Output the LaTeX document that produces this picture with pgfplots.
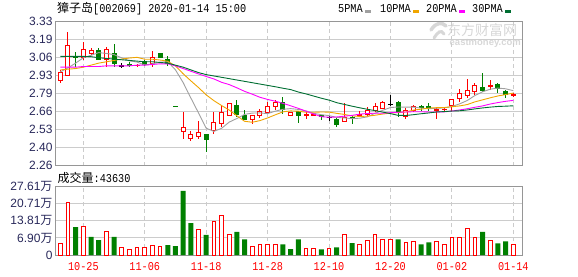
\documentclass[border=0pt]{standalone}
\usepackage{fontspec}
\setmainfont{Liberation Mono}[FakeStretch=0.85]
\newfontfamily\cjk{Noto Sans CJK SC}
\newfontfamily\lsans{Liberation Sans}
\usepackage{pgfplots}
\pgfplotsset{compat=1.18}
\usepackage{pgfplotstable}
\definecolor{cred}{RGB}{255,0,0}
\definecolor{cgreen}{RGB}{0,128,0}
\definecolor{maA}{RGB}{160,160,160}
\definecolor{maB}{RGB}{240,165,0}
\definecolor{maC}{RGB}{255,0,255}
\definecolor{maD}{RGB}{0,110,50}
\definecolor{gridc}{RGB}{204,204,204}
\definecolor{framec}{RGB}{150,150,150}
\definecolor{lblc}{RGB}{40,40,90}
\definecolor{wm}{RGB}{215,215,215}
\newcommand\wan{{\cjk 万}}

\pgfplotstableread{
i o h l c
0 2.89 2.97 2.87 2.95
1 2.93 3.25 2.93 3.15
3 3.06 3.18 3.04 3.12
4 3.09 3.13 3.08 3.11
6 3.05 3.14 2.99 3.12
10 3.00 3.012 2.99 3.005
12 3.02 3.11 2.99 3.06
16 2.515 2.655 2.46 2.54
17 2.46 2.515 2.44 2.49
18 2.475 2.59 2.46 2.505
20 2.52 2.655 2.495 2.58
21 2.576 2.71 2.545 2.653
22 2.63 2.725 2.625 2.72
25 2.60 2.63 2.57 2.63
26 2.63 2.68 2.61 2.66
27 2.655 2.73 2.64 2.695
28 2.70 2.745 2.67 2.73
30 2.63 2.66 2.63 2.655
32 2.635 2.667 2.606 2.64
33 2.635 2.65 2.625 2.64
37 2.59 2.725 2.59 2.62
39 2.635 2.663 2.62 2.64
40 2.638 2.695 2.626 2.672
41 2.667 2.727 2.66 2.70
42 2.687 2.741 2.68 2.73
45 2.628 2.688 2.607 2.668
46 2.67 2.71 2.66 2.70
49 2.67 2.69 2.605 2.675
50 2.675 2.697 2.658 2.68
51 2.707 2.756 2.667 2.754
52 2.756 2.83 2.731 2.793
53 2.778 2.901 2.761 2.815
54 2.81 2.872 2.786 2.857
56 2.848 2.896 2.823 2.852
59 2.785 2.80 2.768 2.79
}\redc

\pgfplotstableread{
i o h l c
2 3.07 3.10 2.99 3.06
5 3.11 3.13 3.04 3.05
7 3.09 3.16 2.99 3.015
9 3.01 3.03 2.99 3.00
11 3.03 3.04 3.00 3.01
13 3.09 3.09 3.06 3.06
14 3.05 3.07 3.00 3.02
15 2.70 2.70 2.70 2.70
19 2.49 2.49 2.36 2.455
23 2.705 2.745 2.62 2.64
24 2.63 2.67 2.595 2.605
29 2.727 2.766 2.64 2.675
31 2.66 2.66 2.575 2.63
34 2.63 2.63 2.595 2.625
36 2.605 2.61 2.55 2.565
38 2.62 2.625 2.57 2.615
44 2.727 2.737 2.623 2.658
47 2.70 2.707 2.663 2.695
48 2.697 2.724 2.663 2.69
55 2.842 2.946 2.806 2.82
57 2.86 2.872 2.798 2.835
58 2.81 2.82 2.761 2.786
}\greenc

\pgfplotstableread{
i o h l c
8 3.00 3.02 2.985 3.00
35 2.62 2.63 2.59 2.62
43 2.715 2.786 2.70 2.715
}\blackc

\pgfplotstableread{
i m5 m10 m20 m30
0 2.955 2.97 2.99 3.07
1 2.985 2.975 2.99 3.07
2 3.02 2.98 2.99 3.07
3 3.06 2.99 2.995 3.07
4 3.078 3.005 2.995 3.068
5 3.098 3.02 2.995 3.06
6 3.092 3.03 3.0 3.055
7 3.083 3.04 3.0 3.05
8 3.059 3.05 3.0 3.045
9 3.037 3.058 3.0 3.04
10 3.028 3.063 3.005 3.035
11 3.006 3.049 3.005 3.03
12 3.015 3.049 3.01 3.03
13 3.027 3.043 3.015 3.025
14 3.031 3.034 3.015 3.02
15 2.97 2.999 3.0 3.005
16 2.876 2.941 2.98 2.99
17 2.762 2.889 2.96 2.97
18 2.651 2.839 2.94 2.95
19 2.538 2.785 2.921 2.935
20 2.514 2.742 2.903 2.925
21 2.537 2.706 2.878 2.915
22 2.583 2.672 2.861 2.905
23 2.610 2.630 2.837 2.895
24 2.640 2.589 2.811 2.885
25 2.650 2.582 2.790 2.875
26 2.651 2.594 2.767 2.865
27 2.646 2.614 2.751 2.855
28 2.664 2.637 2.738 2.845
29 2.678 2.659 2.722 2.834
30 2.683 2.666 2.704 2.824
31 2.677 2.664 2.685 2.806
32 2.666 2.656 2.664 2.792
33 2.648 2.656 2.643 2.776
34 2.638 2.658 2.623 2.760
35 2.631 2.657 2.619 2.746
36 2.618 2.648 2.621 2.727
37 2.614 2.640 2.627 2.714
38 2.609 2.629 2.633 2.701
39 2.612 2.625 2.642 2.689
40 2.622 2.627 2.647 2.678
41 2.649 2.634 2.649 2.668
42 2.671 2.643 2.649 2.657
43 2.691 2.650 2.653 2.646
44 2.695 2.654 2.656 2.633
45 2.694 2.658 2.658 2.632
46 2.694 2.672 2.660 2.638
47 2.687 2.679 2.660 2.645
48 2.682 2.687 2.658 2.651
49 2.686 2.690 2.658 2.658
50 2.688 2.691 2.659 2.661
51 2.699 2.697 2.665 2.665
52 2.718 2.703 2.673 2.667
53 2.743 2.713 2.682 2.673
54 2.780 2.733 2.693 2.681
55 2.808 2.748 2.703 2.688
56 2.827 2.763 2.717 2.694
57 2.835 2.777 2.728 2.699
58 2.830 2.787 2.737 2.701
59 2.816 2.798 2.744 2.704
}\mas

\pgfplotstableread{
i v
0 4.45
1 21.1
3 11.7
6 9.3
8 3.1
9 2.3
10 3.1
11 3.1
12 3.9
13 3.6
18 10.4
20 13.6
21 16.0
22 8.35
25 3.5
26 4.3
27 4.3
28 4.3
32 2.7
33 2.7
35 2.7
37 8.35
39 4.3
40 5.9
41 8.35
42 6.3
43 6.3
45 5.1
46 5.5
49 5.5
50 4.3
51 7.1
52 7.1
53 10.8
54 7.1
56 5.9
59 4.363
}\volr

\pgfplotstableread{
i v
2 11.3
4 7.3
5 6.06
7 7.3
14 4.0
15 3.6
16 25.9
17 12.9
19 8.1
23 9.3
24 6.3
29 4.3
30 2.4
31 6.3
34 2.3
36 3.1
38 4.85
44 6.3
47 4.3
48 5.1
55 9.3
57 4.7
58 5.5
}\volg

\pgfplotsset{
  kbase/.style={
    scale only axis, width=466.6pt,
    xmin=-0.6, xmax=60.17,
    axis line style={draw=framec, line width=1pt},
    major tick length=0pt,
    xtick={3,11,19,27,35,43,51,59},
    xmajorgrids, ymajorgrids,
    x grid style={draw=gridc, line width=0.9pt, dash pattern=on 4pt off 3pt},
    y grid style={draw=gridc, line width=0.9pt},
    yticklabel style={font=\lsans\fontsize{12pt}{14pt}\selectfont, text=lblc, anchor=east, inner sep=0pt, xshift=-3pt},
    clip=false,
  },
  candle/.style 2 args={draw=none, mark=none, forget plot,
    error bars/.cd, y dir=both, y explicit, error mark=none,
    error bar style={draw=#1, solid, line cap=butt, line width=#2}},
}

\begin{document}
\begin{tikzpicture}[font=\fontsize{12pt}{14pt}\selectfont]
\path[use as bounding box] (0,0) rectangle (578pt,276pt);
% watermark
\node[anchor=west, inner sep=0pt, text=wm] at (447pt,245.5pt) {\cjk\fontsize{14pt}{15pt}\selectfont 东方财富网};
\node[anchor=west, inner sep=0pt, text=wm] at (449.5pt,232.3pt) {\lsans\bfseries\fontsize{9.5pt}{10pt}\selectfont eastmoney.com};
\draw[wm, line width=3.5pt, line cap=round] (431pt,246pt) .. controls (436pt,254pt) and (442pt,254pt) .. (446pt,250pt);
\draw[wm, line width=3pt, line cap=round] (434pt,238pt) .. controls (438pt,244pt) and (441pt,247pt) .. (444pt,242pt);

% title and legend
\node[anchor=west, inner sep=0pt] at (57pt,267.5pt) {{\cjk 獐子岛}[002069] 2020-01-14 15:00};
\node[anchor=west, inner sep=0pt] at (338pt,267.5pt) {5PMA};
\fill[maA] (365pt,262.5pt) rectangle (371pt,265.5pt);
\node[anchor=west, inner sep=0pt] at (380pt,267.5pt) {10PMA};
\fill[maB] (413pt,262.5pt) rectangle (419pt,265.5pt);
\node[anchor=west, inner sep=0pt] at (426pt,267.5pt) {20PMA};
\fill[maC] (459pt,262.5pt) rectangle (465pt,265.5pt);
\node[anchor=west, inner sep=0pt] at (472pt,267.5pt) {30PMA};
\fill[maD] (505pt,262.5pt) rectangle (511pt,265.5pt);
\node[anchor=west, inner sep=0pt] at (57.5pt,98.3pt) {{\cjk 成交量}:43630};

% price panel
\begin{axis}[kbase,
  at={(55.7pt,110.3pt)}, anchor=south west, height=144.4pt,
  ymin=2.26, ymax=3.33,
  ytick={2.26,2.39375,2.5275,2.66125,2.795,2.92875,3.0625,3.19625,3.33},
  yticklabels={2.26,2.40,2.53,2.66,2.79,2.93,3.06,3.19,3.33},
  xticklabels={},
]
% red candles
\addplot[candle={cred}{1pt}]
  table[x=i, y expr={(\thisrow{h}+\thisrow{l})/2}, y error expr={(\thisrow{h}-\thisrow{l})/2}] {\redc};
\addplot[candle={cred}{5pt}]
  table[x=i, y expr={(\thisrow{o}+\thisrow{c})/2}, y error expr={abs(\thisrow{c}-\thisrow{o})/2+0.0037}] {\redc};
\addplot[candle={white}{3pt}]
  table[x=i, y expr={(\thisrow{o}+\thisrow{c})/2}, y error expr={max(abs(\thisrow{c}-\thisrow{o})/2-0.0037,0)}] {\redc};
% green candles
\addplot[candle={cgreen}{1pt}]
  table[x=i, y expr={(\thisrow{h}+\thisrow{l})/2}, y error expr={(\thisrow{h}-\thisrow{l})/2}] {\greenc};
\addplot[candle={cgreen}{5pt}]
  table[x=i, y expr={(\thisrow{o}+\thisrow{c})/2}, y error expr={abs(\thisrow{c}-\thisrow{o})/2+0.0037}] {\greenc};
% black crosses
\addplot[candle={black}{1pt}]
  table[x=i, y expr={(\thisrow{h}+\thisrow{l})/2}, y error expr={(\thisrow{h}-\thisrow{l})/2}] {\blackc};
\addplot[candle={black}{5pt}]
  table[x=i, y expr={(\thisrow{o}+\thisrow{c})/2}, y error expr={0.0037}] {\blackc};
% moving averages
\addplot[maA, line width=0.9pt] table[x=i, y=m5] {\mas};
\addplot[maB, line width=0.9pt] table[x=i, y=m10] {\mas};
\addplot[maC, line width=0.9pt] table[x=i, y=m20] {\mas};
\addplot[maD, line width=0.9pt] table[x=i, y=m30] {\mas};
\end{axis}

% volume panel
\begin{axis}[kbase,
  at={(55.7pt,21pt)}, anchor=south west, height=68.3pt,
  ymin=0, ymax=27.61,
  ytick={0,6.9025,13.805,20.7075,27.61},
  yticklabels={0,6.90\wan,13.81\wan,20.71\wan,27.61\wan},
  xticklabels={10-25,11-06,11-18,11-28,12-10,12-20,01-02,01-14},
  xticklabel style={text=cred, anchor=north, inner sep=0pt, yshift=-7pt},
]
\addplot[ybar, bar shift=0pt, bar width=3.6pt, draw=cred, fill=white, line width=1pt] table[x=i, y=v] {\volr};
\addplot[ybar, bar shift=0pt, bar width=5pt, fill=cgreen, draw=none] table[x=i, y=v] {\volg};
\end{axis}
\end{tikzpicture}
\end{document}
